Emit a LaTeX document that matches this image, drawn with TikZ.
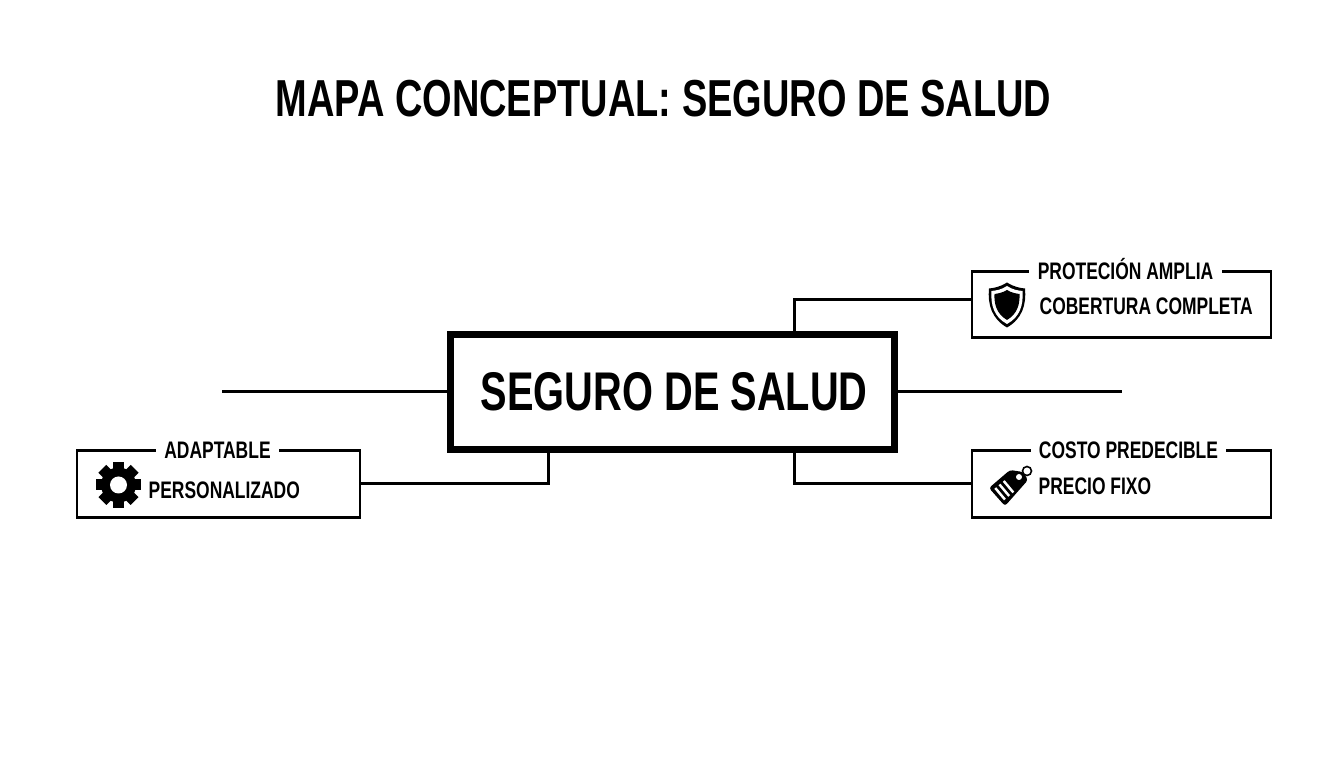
\documentclass[tikz,border=0pt]{standalone}
\usepackage{fontspec}
\setmainfont[FakeStretch=0.73]{Liberation Sans}
\usepackage{tikz}
\tikzset{
  mainBox/.style={draw=black,line width=1.9pt,fill=white,minimum width=4.44cm,minimum height=1.155cm,inner sep=0pt},
  infoBox/.style={draw=black,line width=0.75pt,minimum height=0.665cm,inner sep=0pt},
  boxHead/.style={fill=white,inner xsep=2.4pt,inner ysep=1pt,font=\fontsize{6.8}{7}\selectfont\bfseries},
  boxText/.style={anchor=west,inner sep=0pt,font=\fontsize{6.8}{7}\selectfont\bfseries},
  link/.style={draw=black,line width=0.85pt}
}
\begin{document}
\begin{tikzpicture}
\useasboundingbox (0,0) rectangle (13.44,7.68);
% Title
\node[font=\fontsize{14.8}{18}\selectfont\bfseries] (title) at (6.635,6.69) {MAPA CONCEPTUAL: SEGURO DE SALUD};

% Main box
\node[mainBox,font=\fontsize{15.5}{18}\selectfont\bfseries] (seguro) at (6.725,3.76) {\hspace*{1pt}SEGURO DE SALUD};

% Side boxes
\node[infoBox,minimum width=2.99cm] (proteccion) at (11.215,4.635) {};
\node[infoBox,minimum width=2.99cm] (costo) at (11.215,2.84) {};
\node[infoBox,minimum width=2.83cm] (adaptable) at (2.185,2.84) {};

% Box headings
\node[boxHead] (proteccionHead) at (11.255,4.99) {PROTECIÓN AMPLIA};
\node[boxHead] (costoHead) at (11.285,3.18) {COSTO PREDECIBLE};
\node[boxHead] (adaptableHead) at (2.175,3.18) {ADAPTABLE};

% Box texts
\node[boxText] (proteccionText) at (10.39,4.62) {COBERTURA COMPLETA};
\node[boxText] (costoText) at (10.38,2.82) {PRECIO FIXO};
\node[boxText] (adaptableText) at (1.48,2.78) {PERSONALIZADO};

% Connectors
\coordinate (leftEnd) at (2.22,3.76);
\coordinate (rightEnd) at (11.22,3.76);
\draw[link] (seguro.west) -- (leftEnd);
\draw[link] (seguro.east) -- (rightEnd);
\draw[link] ([xshift=1.22cm]seguro.north) |- ([yshift=0.045cm]proteccion.west);
\draw[link] ([xshift=1.22cm]seguro.south) |- (costo.west);
\draw[link] ([xshift=-1.24cm]seguro.south) |- (adaptable.east);

% Shield
\begin{scope}[shift={(10.07,4.63)}]
\fill[black] (0,0.225) .. controls (0.07,0.18) and (0.13,0.17) .. (0.18,0.165) .. controls (0.195,0) and (0.15,-0.14) .. (0,-0.225) .. controls (-0.15,-0.14) and (-0.195,0) .. (-0.18,0.165) .. controls (-0.13,0.17) and (-0.07,0.18) .. (0,0.225) -- cycle;
\fill[white] (0,0.19) .. controls (0.06,0.15) and (0.11,0.145) .. (0.155,0.14) .. controls (0.165,0) and (0.13,-0.12) .. (0,-0.19) .. controls (-0.13,-0.12) and (-0.165,0) .. (-0.155,0.14) .. controls (-0.11,0.145) and (-0.06,0.15) .. (0,0.19) -- cycle;
\fill[black] (0,0.15) .. controls (0.05,0.12) and (0.09,0.115) .. (0.125,0.11) .. controls (0.13,0) and (0.1,-0.09) .. (0,-0.15) .. controls (-0.1,-0.09) and (-0.13,0) .. (-0.125,0.11) .. controls (-0.09,0.115) and (-0.05,0.12) .. (0,0.15) -- cycle;
\end{scope}

% Tag
\begin{scope}[shift={(10.10,2.81)}]
\fill[black,rounded corners=0.8pt] (-0.21,-0.01) -- (0,0.17) -- (0.13,0.15) -- (0.18,0.07) -- (-0.05,-0.19) -- cycle;
\draw[black,line width=0.45pt] (0.17,0.16) circle (0.045);
\fill[white] (0.09,0.10) circle (0.03);
\begin{scope}[shift={(-0.03,-0.01)},rotate=40]
\foreach \x in {-0.09,-0.035,0.02}
  \draw[white,line width=0.7pt] (\x,-0.075) -- (\x,0.075);
\end{scope}
\end{scope}

% Gear
\begin{scope}[shift={(1.185,2.83)}]
\foreach \a in {0,45,...,315}
  \fill[black,rotate=\a] (-0.055,0) rectangle (0.055,0.228);
\fill[black] (0,0) circle (0.175);
\fill[white] (0,0) circle (0.085);
\end{scope}
\end{tikzpicture}
\end{document}
